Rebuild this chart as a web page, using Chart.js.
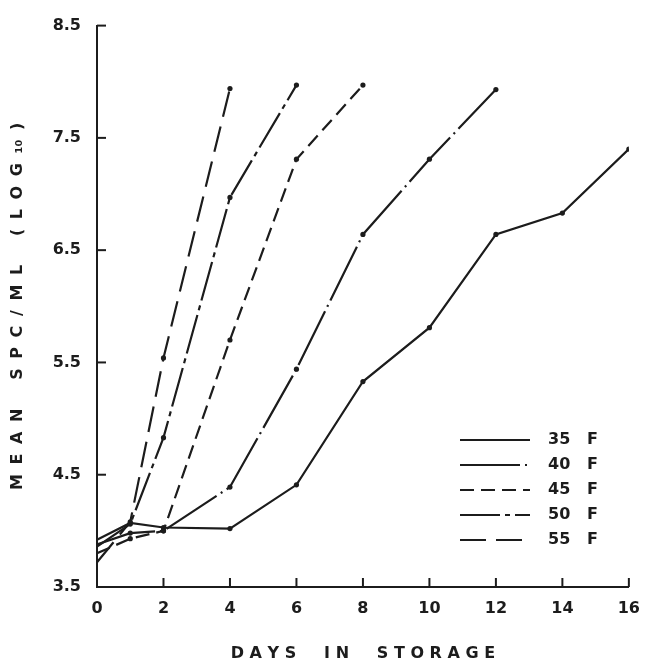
<!DOCTYPE html>
<html><head><meta charset="utf-8">
<script src="https://cdn.jsdelivr.net/npm/chart.js@4/dist/chart.umd.min.js"></script>
<style>html,body{margin:0;padding:0;background:#fff}canvas{display:block}</style>
</head><body>
<canvas id="c" width="652" height="665"></canvas>
<script>
// ---- data ----
const seriesLabels = ['35 F', '40 F', '45 F', '50 F', '55 F'];
const days35 = [0, 1, 2, 4, 6, 8, 10, 12, 14, 16];
const mean35 = [3.92, 4.07, 4.03, 4.02, 4.41, 5.33, 5.81, 6.64, 6.83, 7.40];
const days40 = [0, 1, 2, 4, 6, 8, 10, 12];
const mean40 = [3.88, 3.98, 4.00, 4.39, 5.44, 6.64, 7.31, 7.93];
const days45 = [0, 1, 2, 4, 6, 8];
const mean45 = [3.80, 3.93, 4.00, 5.70, 7.31, 7.97];
const days50 = [0, 1, 2, 4, 6];
const mean50 = [3.86, 4.06, 4.83, 6.97, 7.97];
const days55 = [0, 1, 2, 4];
const mean55 = [3.72, 4.08, 5.54, 7.94];
const xTickValues = [0, 2, 4, 6, 8, 10, 12, 14, 16];
const yTickValues = [3.5, 4.5, 5.5, 6.5, 7.5, 8.5];
const xTitle = 'D A Y S     I N     S T O R A G E';
const G = '\u2002\u200A';
const yTitle = ['M','E','A','N'].join(G) + G + G + G + ['S','P','C','/','M','L'].join(G) + G + G + G + ['(','L','O','G','₁₀',')'].join(G);

// ---- styling ----
const INK = '#1c1c1c';
const FONT = "'DejaVu Sans', 'Liberation Sans', sans-serif";
const dashes = [[], [60, 5, 2, 5], [14, 7], [40, 5, 5, 5], [26, 10]];

const pairs = (xs, ys) => xs.map((d, i) => ({ x: d, y: ys[i] }));
const allDays = [days35, days40, days45, days50, days55];
const allMeans = [mean35, mean40, mean45, mean50, mean55];

const datasets = seriesLabels.map((lab, k) => ({
  label: lab,
  data: pairs(allDays[k], allMeans[k]),
  borderColor: INK,
  backgroundColor: INK,
  borderWidth: 2.2,
  borderDash: dashes[k],
  pointRadius: ctx => (ctx.dataIndex === 0 ? 0 : 2.6),
  pointHoverRadius: 0,
  pointBorderWidth: 0,
  tension: 0,
  fill: false
}));

const extras = {
  id: 'extras',
  afterDatasetsDraw(chart) {
    const { ctx, chartArea: a, scales: { x, y } } = chart;
    ctx.save();
    ctx.strokeStyle = INK;
    ctx.lineWidth = 2;
    ctx.setLineDash([]);
    x.ticks.forEach((t, i) => {
      const px = x.getPixelForTick(i);
      ctx.beginPath(); ctx.moveTo(px, a.bottom); ctx.lineTo(px, a.bottom - 9); ctx.stroke();
    });
    y.ticks.forEach((t, i) => {
      const py = y.getPixelForTick(i);
      ctx.beginPath(); ctx.moveTo(a.left, py); ctx.lineTo(a.left + 9, py); ctx.stroke();
    });
    // legend inside plot, lower right
    const lx0 = 460, lx1 = 530, tx = 548, y0 = 440, dy = 25;
    ctx.font = 'bold 16px ' + FONT;
    ctx.fillStyle = INK;
    ctx.textBaseline = 'middle';
    ctx.textAlign = 'left';
    chart.data.datasets.forEach((ds, k) => {
      const yy = y0 + k * dy;
      ctx.setLineDash(ds.borderDash || []);
      ctx.lineWidth = 2;
      ctx.beginPath(); ctx.moveTo(lx0, yy); ctx.lineTo(lx1, yy); ctx.stroke();
      ctx.setLineDash([]);
      ctx.fillText(ds.label.replace(' ', '   '), tx, yy);
    });
    ctx.restore();
  }
};

new Chart(document.getElementById('c'), {
  type: 'line',
  data: { datasets },
  options: {
    responsive: false,
    animation: false,
    devicePixelRatio: 1,
    layout: { padding: { left: 0, right: 14, top: 22, bottom: 0 } },
    plugins: { legend: { display: false }, tooltip: { enabled: false } },
    elements: { line: { borderCapStyle: 'butt' } },
    scales: {
      x: {
        type: 'linear',
        min: 0, max: 16,
        afterBuildTicks: s => { s.ticks = xTickValues.map(v => ({ value: v })); },
        afterFit: s => { s.height = 78; },
        grid: { display: true, drawOnChartArea: false, drawTicks: false },
        border: { display: true, color: INK, width: 2 },
        ticks: { color: INK, font: { family: FONT, size: 16, weight: 'bold' }, padding: 12, maxRotation: 0 },
        title: { display: true, text: xTitle, color: INK, font: { family: FONT, size: 16, weight: 'bold' }, padding: { top: 0, bottom: 2 } }
      },
      y: {
        type: 'linear',
        min: 3.5, max: 8.5,
        afterBuildTicks: s => { s.ticks = yTickValues.map(v => ({ value: v })); },
        afterFit: s => { s.width = 97; },
        grid: { display: true, drawOnChartArea: false, drawTicks: false },
        border: { display: true, color: INK, width: 2 },
        ticks: { color: INK, font: { family: FONT, size: 16, weight: 'bold' }, padding: 16, callback: v => v.toFixed(1) },
        title: { display: true, text: yTitle, color: INK, font: { family: FONT, size: 16, weight: 'bold' }, padding: { top: 8, bottom: 0 } }
      }
    }
  },
  plugins: [extras]
});
</script>
</body></html>
